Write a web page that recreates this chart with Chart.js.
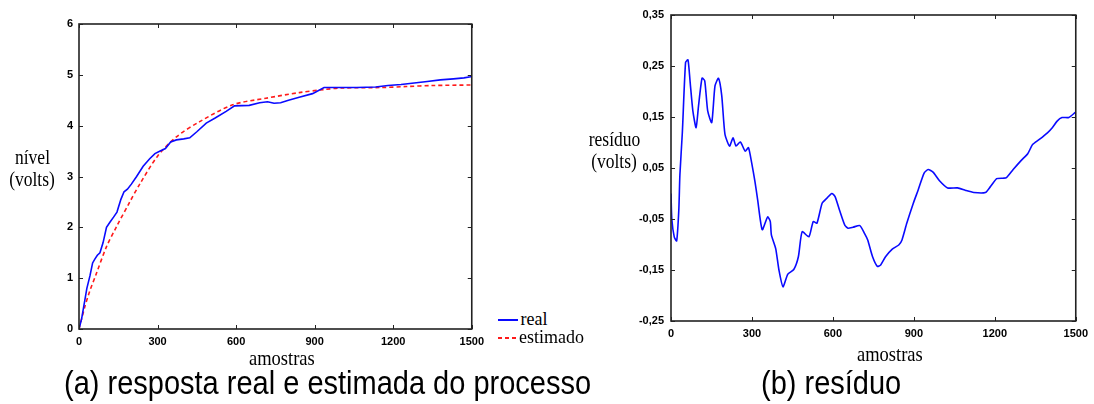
<!DOCTYPE html>
<html><head><meta charset="utf-8">
<script src="https://cdn.jsdelivr.net/npm/chart.js@4/dist/chart.umd.min.js"></script>
<style>
html,body{margin:0;padding:0;background:#fff;width:1094px;height:404px;overflow:hidden}
body{position:relative}
.t{position:absolute;white-space:nowrap;color:#000;margin:0;padding:0}
.serif{font-family:"Liberation Serif","Times New Roman",serif}
.sans{font-family:"Liberation Sans",Arial,sans-serif}
#c1{position:absolute;left:0;top:0}
#c2{position:absolute;left:590px;top:0}
</style></head><body>
<canvas id="c1" width="490" height="360"></canvas>
<canvas id="c2" width="504" height="360"></canvas>
<div id="labels"></div>
<script>
// ---- data ----
const realX = [0,10,20,30,42,52,61,70,80,92,105,118,132,145,160,172,185,200,220,245,270,290,310,330,350,372,400,423,450,486,520,562,594,650,690,720,745,770,800,841,892,936,1000,1060,1133,1180,1230,1280,1330,1380,1430,1470,1495,1500];
const realY = [0,0.2,0.5,0.8,1.05,1.3,1.38,1.45,1.5,1.7,2.0,2.1,2.2,2.3,2.55,2.7,2.75,2.85,3.0,3.2,3.35,3.45,3.5,3.55,3.68,3.72,3.74,3.76,3.88,4.05,4.15,4.28,4.39,4.4,4.45,4.47,4.44,4.45,4.5,4.56,4.63,4.75,4.75,4.75,4.76,4.79,4.81,4.84,4.87,4.9,4.92,4.94,4.96,4.99];
const estX = [0,10,23,40,67,105,143,194,232,300,372,461,587,714,841,936,1000,1150,1250,1350,1500];
const estY = [0,0.2,0.45,0.73,1.1,1.62,2.01,2.5,2.85,3.4,3.78,4.08,4.41,4.54,4.65,4.71,4.74,4.75,4.77,4.79,4.80];
const resX = [0,3,12,21,29,33,42,54,63,71,81,93,102,115,125,136,151,163,176,188,200,217,230,241,257,275,287,299,311,321,338,358,368,372,388,400,415,433,455,472,486,511,527,541,560,578,596,608,626,644,656,675,700,717,729,747,765,777,795,820,844,856,874,898,916,938,953,971,995,1025,1062,1092,1122,1165,1183,1207,1231,1243,1268,1298,1322,1340,1365,1395,1413,1431,1449,1474,1498];
const resY = [0.0,-0.05,-0.085,-0.093,-0.032,0.037,0.119,0.257,0.262,0.218,0.162,0.129,0.172,0.226,0.221,0.162,0.139,0.211,0.226,0.192,0.116,0.093,0.109,0.093,0.101,0.083,0.090,0.060,0.024,-0.012,-0.071,-0.046,-0.055,-0.081,-0.108,-0.150,-0.183,-0.158,-0.149,-0.124,-0.075,-0.085,-0.055,-0.058,-0.019,-0.009,0.000,-0.006,-0.035,-0.062,-0.068,-0.066,-0.063,-0.078,-0.091,-0.124,-0.143,-0.140,-0.124,-0.109,-0.101,-0.091,-0.058,-0.019,0.007,0.040,0.047,0.042,0.025,0.011,0.011,0.006,0.002,0.002,0.013,0.029,0.030,0.031,0.047,0.065,0.078,0.096,0.106,0.119,0.129,0.142,0.149,0.149,0.159];
const xTicks = [0,300,600,900,1200,1500];
const yTicksA = [0,1,2,3,4,5,6];
const yTicksB = [-0.25,-0.15,-0.05,0.05,0.15,0.25,0.35];
const seriesNames = ['real','estimado'];
const blue = '#0a0aff', red = '#ff1a1a';

const toPts = (xs, ys) => xs.map((x,i)=>({x:x,y:ys[i]}));
const tickFont = {family:'"Liberation Sans", Arial, sans-serif', size:11, weight:'bold'};

const boxPlugin = {
  id:'box',
  afterDatasetsDraw(chart){
    const {ctx, chartArea:a, scales} = chart;
    ctx.save();
    ctx.strokeStyle = '#222';
    ctx.lineWidth = 1.6;
    ctx.strokeRect(a.left, a.top, a.right-a.left, a.bottom-a.top);
    ctx.lineWidth = 1;
    ctx.beginPath();
    scales.x.ticks.forEach(t=>{
      const p = Math.round(scales.x.getPixelForValue(t.value))+0.5;
      ctx.moveTo(p,a.top); ctx.lineTo(p,a.top+4);
      ctx.moveTo(p,a.bottom); ctx.lineTo(p,a.bottom-4);
    });
    scales.y.ticks.forEach(t=>{
      const p = Math.round(scales.y.getPixelForValue(t.value))+0.5;
      ctx.moveTo(a.left,p); ctx.lineTo(a.left+4,p);
      ctx.moveTo(a.right,p); ctx.lineTo(a.right-4,p);
    });
    ctx.stroke();
    ctx.restore();
  }
};

function axes(ymin,ymax,yTicks,fmt,yW,xH,xPad,yPad){
  return {
    x:{type:'linear',min:0,max:1500,
       afterBuildTicks(s){s.ticks = xTicks.map(v=>({value:v}));},
       ticks:{font:tickFont,color:'#000',padding:xPad,maxRotation:0,autoSkip:false,callback:v=>String(v)},
       grid:{display:false,drawTicks:false},border:{display:false},
       afterFit(s){s.height=xH;}},
    y:{type:'linear',min:ymin,max:ymax,
       afterBuildTicks(s){s.ticks = yTicks.map(v=>({value:v}));},
       ticks:{font:tickFont,color:'#000',padding:yPad,autoSkip:false,callback:fmt},
       grid:{display:false,drawTicks:false},border:{display:false},
       afterFit(s){s.width=yW;}}
  };
}

new Chart(document.getElementById('c1'),{
  type:'line',
  data:{datasets:[
    {label:seriesNames[0],data:toPts(realX,realY),borderColor:blue,borderWidth:1.6,pointRadius:0,tension:0,fill:false},
    {label:seriesNames[1],data:toPts(estX,estY),borderColor:red,borderWidth:1.6,borderDash:[4,3],pointRadius:0,tension:0.3,fill:false}
  ]},
  options:{responsive:false,animation:false,
    layout:{padding:{left:0,top:24,right:17,bottom:0}},
    plugins:{legend:{display:false},tooltip:{enabled:false}},
    scales:axes(0,6,yTicksA,v=>String(v),79,31,6,6)},
  plugins:[boxPlugin]
});

new Chart(document.getElementById('c2'),{
  type:'line',
  data:{datasets:[
    {label:'resíduo',data:toPts(resX,resY),borderColor:blue,borderWidth:1.6,pointRadius:0,tension:0.2,fill:false}
  ]},
  options:{responsive:false,animation:false,
    layout:{padding:{left:0,top:15,right:10,bottom:0}},
    plugins:{legend:{display:false},tooltip:{enabled:false}},
    scales:axes(-0.25,0.35,yTicksB,v=>v.toFixed(2).replace('.',','),81,39,6,7)},
  plugins:[boxPlugin]
});

// ---- text labels ----
const L = document.getElementById('labels');
function txt(s, cls, size, left, baseline, opts){
  opts = opts||{};
  const d = document.createElement('div');
  d.className = 't '+cls;
  d.textContent = s;
  d.style.fontSize = size+'px';
  d.style.lineHeight = size+'px';
  const asc = cls==='serif'?0.837:0.847;
  d.style.top = (baseline - asc*size)+'px';
  if(opts.center!==undefined){ d.style.left=(opts.center-200)+'px'; d.style.width='400px'; d.style.textAlign='center'; }
  else d.style.left = left+'px';
  if(opts.sy){ d.style.transformOrigin = '0 '+(asc*size)+'px'; d.style.transform='scaleY('+opts.sy+')'; }
  L.appendChild(d);
  return d;
}
txt('nível','serif',17.5,0,165,{center:32.5,sy:1.15});
txt('(volts)','serif',17.5,0,187,{center:32,sy:1.15});
txt('resíduo','serif',17.5,0,147,{center:614.5,sy:1.15});
txt('(volts)','serif',17.5,0,169,{center:614,sy:1.15});
txt('amostras','serif',18.5,249,365,{sy:1.15});
txt('amostras','serif',18.5,857,361,{sy:1.15});
txt('(a) resposta real e estimada do processo','sans',29,64,395,{sy:1.17});
txt('(b) resíduo','sans',29,761,395,{sy:1.17});
// legend
txt(seriesNames[0],'serif',18,520.5,325,{sy:1.1});
txt(seriesNames[1],'serif',18,519,343,{sy:1.1});
const l1 = document.createElement('div');
l1.style.cssText='position:absolute;left:498px;top:319px;width:20px;height:2px;background:'+blue;
const l2 = document.createElement('div');
l2.style.cssText='position:absolute;left:498px;top:337px;width:19px;height:2px;background:repeating-linear-gradient(90deg,'+red+' 0 4px,transparent 4px 7px)';
L.appendChild(l1); L.appendChild(l2);
</script>
</body></html>
